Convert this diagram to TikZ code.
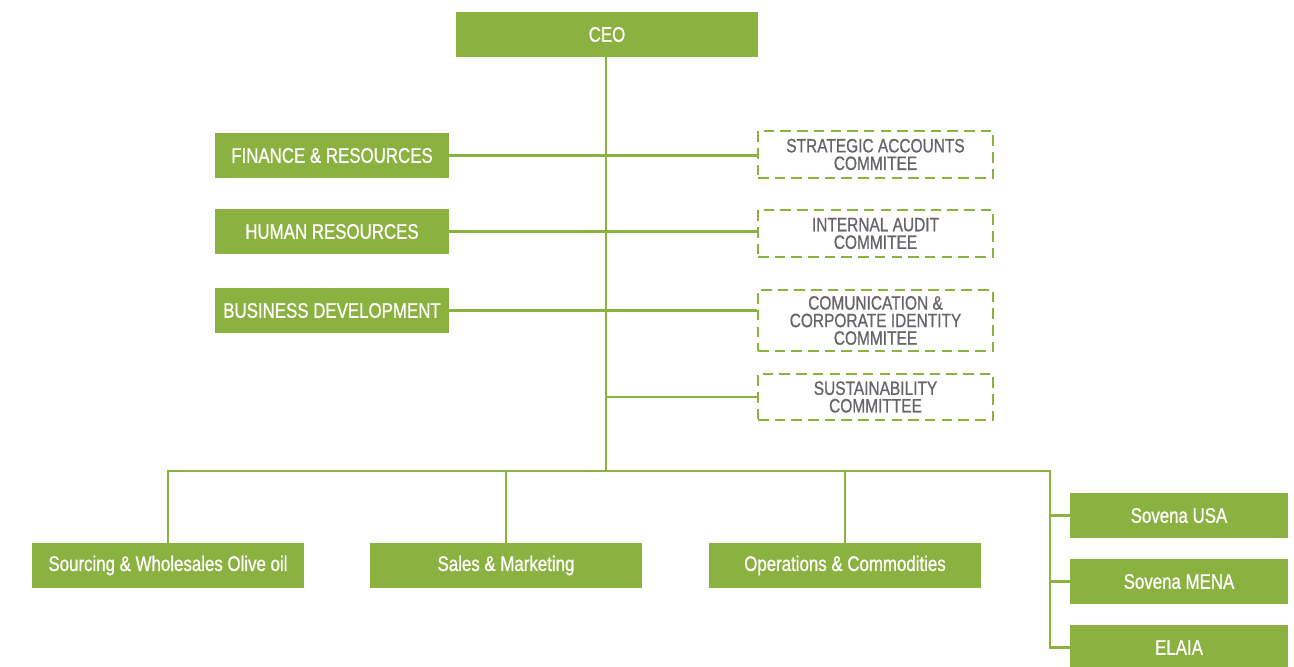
\documentclass[tikz,border=0pt]{standalone}
\usepackage{fontspec}
\setmainfont[FakeStretch=0.8,FakeBold=0.8]{Liberation Sans}
\usepackage{tikz}
\usetikzlibrary{calc}

\definecolor{olive}{HTML}{8BB141}
\definecolor{textgrey}{HTML}{646569}

\tikzset{
	unitbox/.style={fill=olive, text=white, inner sep=0pt, font=\fontsize{12}{13}\selectfont},
	commbox/.style={draw=olive, line width=1.6pt, dash pattern=on 6pt off 3.5pt, text=textgrey,
		minimum width=235*0.02cm, align=center, inner sep=0pt, font=\fontsize{11}{10}\selectfont},
	link/.style={draw=olive, line width=1.6pt}
}

\begin{document}
\begin{tikzpicture}[x=0.02cm, y=-0.02cm]
				% page frame
				\useasboundingbox (0,0) rectangle (1294,666);
				\clip (0,0) rectangle (1294,666);
				% top of the chart
				\node[unitbox, minimum width=302*0.02cm, minimum height=45*0.02cm] (ceo) at (607,34.5) {CEO};
				\coordinate (bus) at (606,471);
				% staff units on the left
				\node[unitbox, minimum width=234*0.02cm, minimum height=45*0.02cm] (fin) at (332,155.5) {FINANCE \& RESOURCES};
				\node[unitbox, minimum width=234*0.02cm, minimum height=45*0.02cm] (hr) at (332,231.5) {HUMAN RESOURCES};
				\node[unitbox, minimum width=234*0.02cm, minimum height=45*0.02cm] (bd) at (332,310.5) {BUSINESS DEVELOPMENT};
				% committees on the right
				\node[commbox, minimum height=47*0.02cm] (sac) at (875.5,154.5) {STRATEGIC ACCOUNTS\\COMMITEE};
				\node[commbox, minimum height=47*0.02cm] (iac) at (875.5,233.5) {INTERNAL AUDIT\\COMMITEE};
				\node[commbox, minimum height=61*0.02cm] (cci) at (875.5,320.5) {COMUNICATION \&\\CORPORATE IDENTITY\\COMMITEE};
				\node[commbox, minimum height=46*0.02cm] (sus) at (875.5,397) {SUSTAINABILITY\\COMMITTEE};
				% business areas
				\node[unitbox, minimum width=272*0.02cm, minimum height=45*0.02cm] (src) at (168,565.5) {Sourcing \& Wholesales Olive oil};
				\node[unitbox, minimum width=272*0.02cm, minimum height=45*0.02cm] (sales) at (506,565.5) {Sales \& Marketing};
				\node[unitbox, minimum width=272*0.02cm, minimum height=45*0.02cm] (ops) at (845,565.5) {Operations \& Commodities};
				% companies
				\node[unitbox, minimum width=218*0.02cm, minimum height=45*0.02cm] (usa) at (1179,515.5) {Sovena USA};
				\node[unitbox, minimum width=218*0.02cm, minimum height=45*0.02cm] (mena) at (1179,581.5) {Sovena MENA};
				\node[unitbox, minimum width=218*0.02cm, minimum height=45*0.02cm] (elaia) at (1179,647.5) {ELAIA};
				% connectors
				\draw[link] (ceo.south -| bus) -- (bus);
				\draw[link] (fin.east) -- (sac.west |- fin.east);
				\draw[link] (hr.east) -- (iac.west |- hr.east);
				\draw[link] (bd.east) -- (cci.west |- bd.east);
				\draw[link] (bus |- sus.west) -- (sus.west);
				\draw[link] (src.north) -- (src.north |- bus) -- (1050,471) |- (elaia.west);
				\draw[link] (sales.north) -- (sales.north |- bus);
				\draw[link] (ops.north) -- (ops.north |- bus);
				\draw[link] (usa.west) -- (usa.west -| 1050,0);
				\draw[link] (mena.west) -- (mena.west -| 1050,0);
			\end{tikzpicture}
\end{document}
